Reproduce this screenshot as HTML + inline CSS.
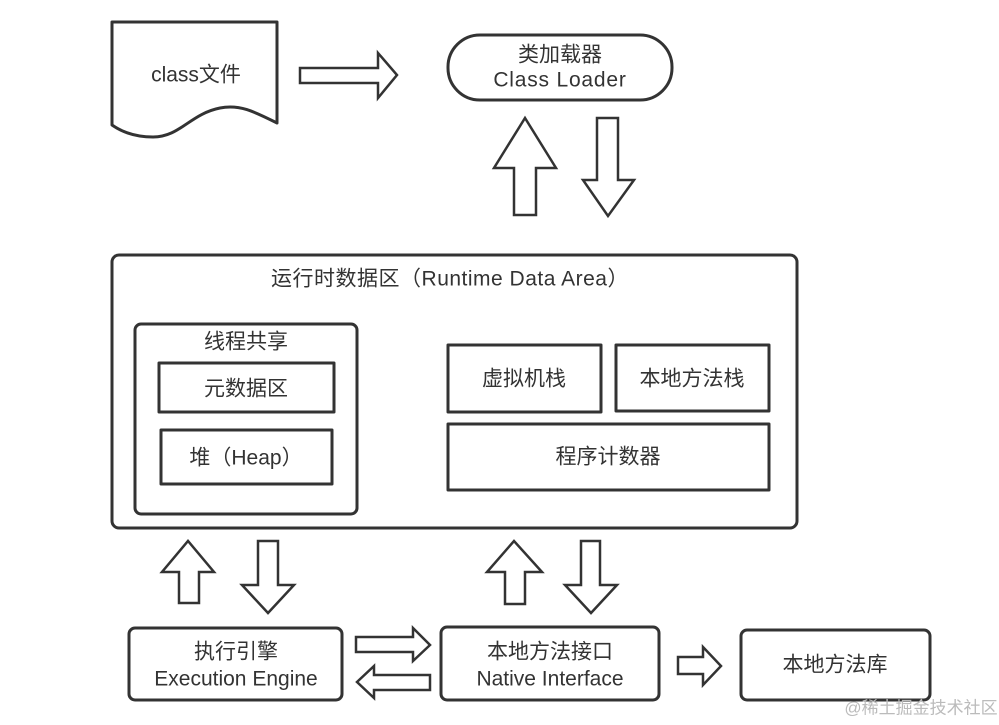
<!DOCTYPE html>
<html><head><meta charset="utf-8"><style>
html,body{margin:0;padding:0;background:#fff;}
svg{display:block}
text{font-family:"Liberation Sans","Noto Sans CJK SC",sans-serif;fill:#333;font-size:21px;text-anchor:middle;dominant-baseline:central}
.s{fill:#fff;stroke:#333;stroke-width:3;stroke-linejoin:round}
.a{fill:#fff;stroke:#333;stroke-width:2.5;stroke-linejoin:miter}
</style></head><body>
<svg width="999" height="725" viewBox="0 0 999 725">
<path class="s" d="M112,22 L277,22 L277,123 C255,112 240,104 220,108 C190,114 180,137 153,137 C135,137 122,132 112,125 Z"/>
<text x="196" y="75">class文件</text>
<path class="a" d="M300,68 L378,68 L378,53 L397,75 L378,98 L378,83 L300,83 Z"/>
<rect class="s" x="448" y="35" width="224" height="65" rx="32"/>
<text x="560" y="55">类加载器</text>
<text x="560" y="80" style="letter-spacing:0.8px">Class  Loader</text>
<path class="a" d="M514,215 L536,215 L536,168 L556,168 L525,118 L494,168 L514,168 Z"/>
<path class="a" d="M597,118 L618,118 L618,180 L634,180 L608,216 L583,180 L597,180 Z"/>
<rect class="s" x="112" y="255" width="685" height="273" rx="7"/>
<text x="450" y="279" style="letter-spacing:0.5px">运行时数据区（Runtime Data Area）</text>
<rect class="s" x="135" y="324" width="222" height="190" rx="6"/>
<text x="246" y="342">线程共享</text>
<rect class="s" x="159" y="363" width="175" height="49"/>
<text x="246" y="389">元数据区</text>
<rect class="s" x="161" y="430" width="171" height="54"/>
<text x="246" y="458">堆（Heap）</text>
<rect class="s" x="448" y="345" width="153" height="67"/>
<text x="524" y="379">虚拟机栈</text>
<rect class="s" x="616" y="345" width="153" height="66"/>
<text x="692" y="379">本地方法栈</text>
<rect class="s" x="448" y="424" width="321" height="66"/>
<text x="608" y="457">程序计数器</text>
<path class="a" d="M179,603 L199,603 L199,572 L214,572 L188,541 L162,572 L179,572 Z"/>
<path class="a" d="M258,541 L278,541 L278,585 L294,585 L268,613 L242,585 L258,585 Z"/>
<path class="a" d="M505,604 L525,604 L525,572 L542,572 L514,541 L487,572 L505,572 Z"/>
<path class="a" d="M581,541 L600,541 L600,585 L617,585 L591,613 L565,585 L581,585 Z"/>
<rect class="s" x="129" y="628" width="213" height="72" rx="6"/>
<text x="236" y="652">执行引擎</text>
<text x="236" y="679">Execution Engine</text>
<rect class="s" x="441" y="627" width="218" height="73" rx="6"/>
<text x="550" y="652">本地方法接口</text>
<text x="550" y="679">Native Interface</text>
<rect class="s" x="741" y="630" width="189" height="70" rx="6"/>
<text x="835" y="665">本地方法库</text>
<path class="a" d="M356,637 L413,637 L413,628 L430,645 L413,661 L413,652 L356,652 Z"/>
<path class="a" d="M430,675 L374,675 L374,666 L357,682 L374,698 L374,690 L430,690 Z"/>
<path class="a" d="M678,657 L703,657 L703,647 L721,666 L703,685 L703,674 L678,674 Z"/>
<text x="921" y="708" style="font-size:17px;fill:#bbb">@稀土掘金技术社区</text>
</svg>
</body></html>
